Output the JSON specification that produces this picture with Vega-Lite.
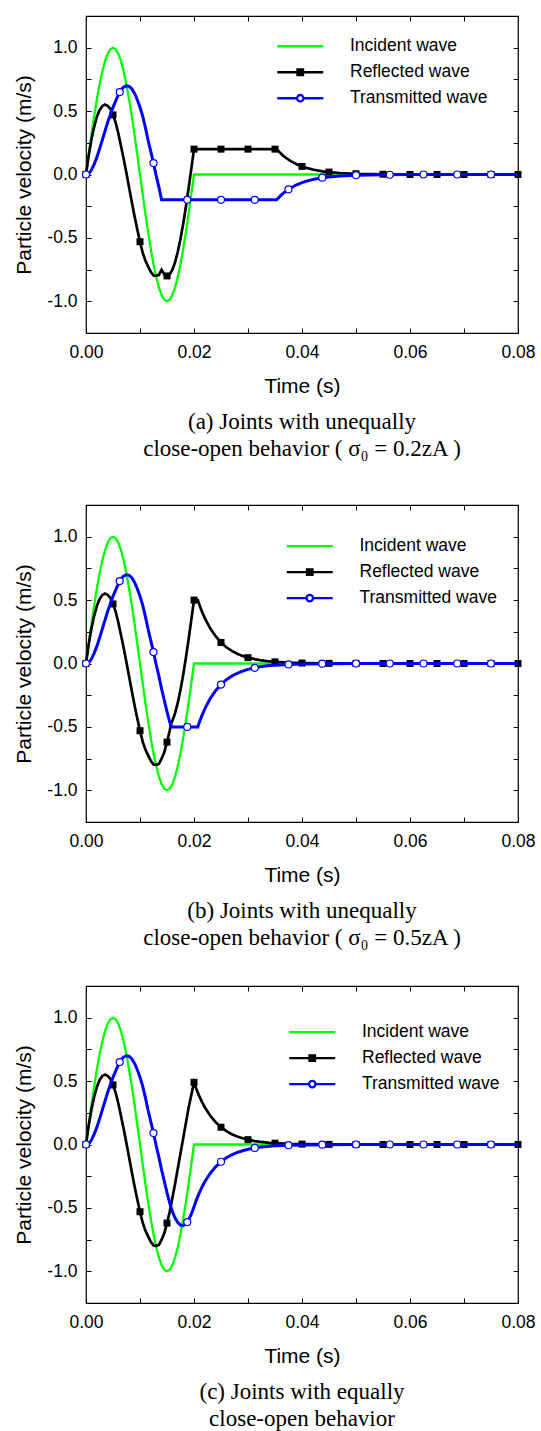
{
  "$schema": "https://vega.github.io/schema/vega-lite/v6.json",
  "background": "white",
  "padding": {"left": 13, "top": 14, "right": 0, "bottom": 0},
  "config": {
    "font": "Liberation Sans",
    "view": {"stroke": "#000000", "strokeWidth": 1.2},
    "axis": {"domain": false, "grid": false, "tickSize": -5, "tickColor": "#000000", "tickWidth": 1, "labelFont": "Liberation Sans", "labelFontSize": 17.5, "labelColor": "#000000", "titleFont": "Liberation Sans", "titleFontSize": 21, "titleFontWeight": "normal", "titleColor": "#000000"},
    "title": {"font": "Liberation Serif, DejaVu Serif, serif", "fontSize": 23, "fontWeight": "normal", "color": "#000000", "orient": "bottom", "anchor": "middle", "frame": "group", "offset": 14, "lineHeight": 27},
    "legend": {"title": null, "orient": "none", "labelFont": "Liberation Sans", "labelFontSize": 17.5, "labelColor": "#000000", "labelOffset": 41, "symbolSize": 100, "symbolStrokeWidth": 2.3, "rowPadding": 7, "padding": 0}
  },
  "datasets": {
    "lines": [
      {"p":"abc","s":"Incident wave","t":0,"v":0},{"p":"abc","s":"Incident wave","t":0.0005,"v":0.156},{"p":"abc","s":"Incident wave","t":0.001,"v":0.309},{"p":"abc","s":"Incident wave","t":0.0015,"v":0.454},{"p":"abc","s":"Incident wave","t":0.002,"v":0.588},{"p":"abc","s":"Incident wave","t":0.0025,"v":0.707},{"p":"abc","s":"Incident wave","t":0.003,"v":0.809},{"p":"abc","s":"Incident wave","t":0.0035,"v":0.891},{"p":"abc","s":"Incident wave","t":0.004,"v":0.951},{"p":"abc","s":"Incident wave","t":0.0045,"v":0.988},{"p":"abc","s":"Incident wave","t":0.005,"v":1},{"p":"abc","s":"Incident wave","t":0.0055,"v":0.988},{"p":"abc","s":"Incident wave","t":0.006,"v":0.951},{"p":"abc","s":"Incident wave","t":0.0065,"v":0.891},{"p":"abc","s":"Incident wave","t":0.007,"v":0.809},{"p":"abc","s":"Incident wave","t":0.0075,"v":0.707},{"p":"abc","s":"Incident wave","t":0.008,"v":0.588},{"p":"abc","s":"Incident wave","t":0.0085,"v":0.454},{"p":"abc","s":"Incident wave","t":0.009,"v":0.309},{"p":"abc","s":"Incident wave","t":0.0095,"v":0.156},{"p":"abc","s":"Incident wave","t":0.01,"v":0},{"p":"abc","s":"Incident wave","t":0.0105,"v":-0.156},{"p":"abc","s":"Incident wave","t":0.011,"v":-0.309},{"p":"abc","s":"Incident wave","t":0.0115,"v":-0.454},{"p":"abc","s":"Incident wave","t":0.012,"v":-0.588},{"p":"abc","s":"Incident wave","t":0.0125,"v":-0.707},{"p":"abc","s":"Incident wave","t":0.013,"v":-0.809},{"p":"abc","s":"Incident wave","t":0.0135,"v":-0.891},{"p":"abc","s":"Incident wave","t":0.014,"v":-0.951},{"p":"abc","s":"Incident wave","t":0.0145,"v":-0.988},{"p":"abc","s":"Incident wave","t":0.015,"v":-1},{"p":"abc","s":"Incident wave","t":0.0155,"v":-0.988},{"p":"abc","s":"Incident wave","t":0.016,"v":-0.951},{"p":"abc","s":"Incident wave","t":0.0165,"v":-0.891},{"p":"abc","s":"Incident wave","t":0.017,"v":-0.809},{"p":"abc","s":"Incident wave","t":0.0175,"v":-0.707},{"p":"abc","s":"Incident wave","t":0.018,"v":-0.588},{"p":"abc","s":"Incident wave","t":0.0185,"v":-0.454},{"p":"abc","s":"Incident wave","t":0.019,"v":-0.309},{"p":"abc","s":"Incident wave","t":0.0195,"v":-0.156},{"p":"abc","s":"Incident wave","t":0.02,"v":0},{"p":"abc","s":"Incident wave","t":0.08,"v":0},

      {"p":"abc","s":"Transmitted wave","t":0,"v":0},{"p":"abc","s":"Transmitted wave","t":0.0005,"v":0.005},{"p":"abc","s":"Transmitted wave","t":0.001,"v":0.035},{"p":"abc","s":"Transmitted wave","t":0.0015,"v":0.08},{"p":"abc","s":"Transmitted wave","t":0.002,"v":0.135},{"p":"abc","s":"Transmitted wave","t":0.0025,"v":0.2},{"p":"abc","s":"Transmitted wave","t":0.003,"v":0.27},{"p":"abc","s":"Transmitted wave","t":0.0035,"v":0.34},{"p":"abc","s":"Transmitted wave","t":0.004,"v":0.41},{"p":"abc","s":"Transmitted wave","t":0.0045,"v":0.47},{"p":"abc","s":"Transmitted wave","t":0.005,"v":0.53},{"p":"abc","s":"Transmitted wave","t":0.0055,"v":0.58},{"p":"abc","s":"Transmitted wave","t":0.006,"v":0.63},{"p":"abc","s":"Transmitted wave","t":0.00625,"v":0.65},{"p":"abc","s":"Transmitted wave","t":0.0065,"v":0.67},{"p":"abc","s":"Transmitted wave","t":0.007,"v":0.69},{"p":"abc","s":"Transmitted wave","t":0.0075,"v":0.7},{"p":"abc","s":"Transmitted wave","t":0.008,"v":0.695},{"p":"abc","s":"Transmitted wave","t":0.0085,"v":0.675},{"p":"abc","s":"Transmitted wave","t":0.009,"v":0.64},{"p":"abc","s":"Transmitted wave","t":0.0095,"v":0.59},{"p":"abc","s":"Transmitted wave","t":0.01,"v":0.53},{"p":"abc","s":"Transmitted wave","t":0.0105,"v":0.46},{"p":"abc","s":"Transmitted wave","t":0.011,"v":0.37},{"p":"abc","s":"Transmitted wave","t":0.0115,"v":0.27},{"p":"abc","s":"Transmitted wave","t":0.012,"v":0.18},{"p":"abc","s":"Transmitted wave","t":0.0125,"v":0.09},{"p":"abc","s":"Transmitted wave","t":0.013,"v":-0.01},{"p":"abc","s":"Transmitted wave","t":0.0135,"v":-0.1},{"p":"abc","s":"Transmitted wave","t":0.014,"v":-0.2},

      {"p":"a","s":"Transmitted wave","t":0.0353,"v":-0.2},{"p":"a","s":"Transmitted wave","t":0.036,"v":-0.169},{"p":"a","s":"Transmitted wave","t":0.0365,"v":-0.149},{"p":"a","s":"Transmitted wave","t":0.037,"v":-0.132},{"p":"a","s":"Transmitted wave","t":0.0375,"v":-0.117},{"p":"a","s":"Transmitted wave","t":0.038,"v":-0.104},{"p":"a","s":"Transmitted wave","t":0.039,"v":-0.081},{"p":"a","s":"Transmitted wave","t":0.04,"v":-0.064},{"p":"a","s":"Transmitted wave","t":0.041,"v":-0.05},{"p":"a","s":"Transmitted wave","t":0.042,"v":-0.039},{"p":"a","s":"Transmitted wave","t":0.04375,"v":-0.025},{"p":"a","s":"Transmitted wave","t":0.045,"v":-0.019},{"p":"a","s":"Transmitted wave","t":0.047,"v":-0.012},{"p":"a","s":"Transmitted wave","t":0.05,"v":-0.006},{"p":"a","s":"Transmitted wave","t":0.055,"v":-0.002},{"p":"a","s":"Transmitted wave","t":0.06,"v":0},{"p":"a","s":"Transmitted wave","t":0.08,"v":0},

      {"p":"bc","s":"Transmitted wave","t":0.0145,"v":-0.29},{"p":"bc","s":"Transmitted wave","t":0.015,"v":-0.38},{"p":"bc","s":"Transmitted wave","t":0.0155,"v":-0.46},

      {"p":"b","s":"Transmitted wave","t":0.0158,"v":-0.5},{"p":"b","s":"Transmitted wave","t":0.0207,"v":-0.5},{"p":"b","s":"Transmitted wave","t":0.021,"v":-0.463},{"p":"b","s":"Transmitted wave","t":0.0215,"v":-0.407},{"p":"b","s":"Transmitted wave","t":0.022,"v":-0.358},{"p":"b","s":"Transmitted wave","t":0.023,"v":-0.277},{"p":"b","s":"Transmitted wave","t":0.024,"v":-0.215},{"p":"b","s":"Transmitted wave","t":0.025,"v":-0.166},{"p":"b","s":"Transmitted wave","t":0.026,"v":-0.128},{"p":"b","s":"Transmitted wave","t":0.027,"v":-0.099},{"p":"b","s":"Transmitted wave","t":0.028,"v":-0.077},{"p":"b","s":"Transmitted wave","t":0.029,"v":-0.06},{"p":"b","s":"Transmitted wave","t":0.03,"v":-0.046},{"p":"b","s":"Transmitted wave","t":0.03125,"v":-0.034},{"p":"b","s":"Transmitted wave","t":0.0325,"v":-0.024},{"p":"b","s":"Transmitted wave","t":0.034,"v":-0.016},{"p":"b","s":"Transmitted wave","t":0.035,"v":-0.013},{"p":"b","s":"Transmitted wave","t":0.0375,"v":-0.007},{"p":"b","s":"Transmitted wave","t":0.04,"v":-0.0035},{"p":"b","s":"Transmitted wave","t":0.045,"v":-0.001},{"p":"b","s":"Transmitted wave","t":0.05,"v":0},{"p":"b","s":"Transmitted wave","t":0.08,"v":0},

      {"p":"c","s":"Transmitted wave","t":0.016,"v":-0.53},{"p":"c","s":"Transmitted wave","t":0.0165,"v":-0.58},{"p":"c","s":"Transmitted wave","t":0.017,"v":-0.615},{"p":"c","s":"Transmitted wave","t":0.0175,"v":-0.635},{"p":"c","s":"Transmitted wave","t":0.018,"v":-0.64},{"p":"c","s":"Transmitted wave","t":0.0185,"v":-0.625},{"p":"c","s":"Transmitted wave","t":0.01875,"v":-0.612},{"p":"c","s":"Transmitted wave","t":0.019,"v":-0.595},{"p":"c","s":"Transmitted wave","t":0.0195,"v":-0.55},{"p":"c","s":"Transmitted wave","t":0.02,"v":-0.49},{"p":"c","s":"Transmitted wave","t":0.0205,"v":-0.431},{"p":"c","s":"Transmitted wave","t":0.021,"v":-0.379},{"p":"c","s":"Transmitted wave","t":0.0215,"v":-0.334},{"p":"c","s":"Transmitted wave","t":0.022,"v":-0.294},{"p":"c","s":"Transmitted wave","t":0.023,"v":-0.227},{"p":"c","s":"Transmitted wave","t":0.024,"v":-0.176},{"p":"c","s":"Transmitted wave","t":0.025,"v":-0.136},{"p":"c","s":"Transmitted wave","t":0.026,"v":-0.105},{"p":"c","s":"Transmitted wave","t":0.027,"v":-0.081},{"p":"c","s":"Transmitted wave","t":0.028,"v":-0.063},{"p":"c","s":"Transmitted wave","t":0.029,"v":-0.049},{"p":"c","s":"Transmitted wave","t":0.03,"v":-0.038},{"p":"c","s":"Transmitted wave","t":0.03125,"v":-0.027},{"p":"c","s":"Transmitted wave","t":0.0325,"v":-0.02},{"p":"c","s":"Transmitted wave","t":0.034,"v":-0.0135},{"p":"c","s":"Transmitted wave","t":0.035,"v":-0.0104},{"p":"c","s":"Transmitted wave","t":0.0375,"v":-0.0055},{"p":"c","s":"Transmitted wave","t":0.04,"v":-0.003},{"p":"c","s":"Transmitted wave","t":0.045,"v":-0.001},{"p":"c","s":"Transmitted wave","t":0.05,"v":0},{"p":"c","s":"Transmitted wave","t":0.08,"v":0},

      {"p":"abc","s":"Reflected wave","t":0,"v":0},{"p":"abc","s":"Reflected wave","t":0.0005,"v":0.151},{"p":"abc","s":"Reflected wave","t":0.001,"v":0.274},{"p":"abc","s":"Reflected wave","t":0.0015,"v":0.374},{"p":"abc","s":"Reflected wave","t":0.002,"v":0.453},{"p":"abc","s":"Reflected wave","t":0.0025,"v":0.507},{"p":"abc","s":"Reflected wave","t":0.003,"v":0.539},{"p":"abc","s":"Reflected wave","t":0.0035,"v":0.551},{"p":"abc","s":"Reflected wave","t":0.004,"v":0.541},{"p":"abc","s":"Reflected wave","t":0.0045,"v":0.518},{"p":"abc","s":"Reflected wave","t":0.005,"v":0.47},{"p":"abc","s":"Reflected wave","t":0.0055,"v":0.408},{"p":"abc","s":"Reflected wave","t":0.006,"v":0.321},{"p":"abc","s":"Reflected wave","t":0.0065,"v":0.221},{"p":"abc","s":"Reflected wave","t":0.007,"v":0.119},{"p":"abc","s":"Reflected wave","t":0.0075,"v":0.007},{"p":"abc","s":"Reflected wave","t":0.008,"v":-0.107},{"p":"abc","s":"Reflected wave","t":0.0085,"v":-0.221},{"p":"abc","s":"Reflected wave","t":0.009,"v":-0.331},{"p":"abc","s":"Reflected wave","t":0.0095,"v":-0.434},{"p":"abc","s":"Reflected wave","t":0.01,"v":-0.53},{"p":"abc","s":"Reflected wave","t":0.0105,"v":-0.616},{"p":"abc","s":"Reflected wave","t":0.011,"v":-0.679},{"p":"abc","s":"Reflected wave","t":0.0115,"v":-0.724},{"p":"abc","s":"Reflected wave","t":0.012,"v":-0.768},{"p":"abc","s":"Reflected wave","t":0.0125,"v":-0.797},{"p":"abc","s":"Reflected wave","t":0.013,"v":-0.799},{"p":"abc","s":"Reflected wave","t":0.0135,"v":-0.791},{"p":"abc","s":"Reflected wave","t":0.014,"v":-0.751},

      {"p":"a","s":"Reflected wave","t":0.0145,"v":-0.788},{"p":"a","s":"Reflected wave","t":0.015,"v":-0.8},{"p":"a","s":"Reflected wave","t":0.0155,"v":-0.788},{"p":"a","s":"Reflected wave","t":0.016,"v":-0.751},{"p":"a","s":"Reflected wave","t":0.0165,"v":-0.691},{"p":"a","s":"Reflected wave","t":0.017,"v":-0.609},{"p":"a","s":"Reflected wave","t":0.0175,"v":-0.507},{"p":"a","s":"Reflected wave","t":0.018,"v":-0.388},{"p":"a","s":"Reflected wave","t":0.0185,"v":-0.254},{"p":"a","s":"Reflected wave","t":0.019,"v":-0.109},{"p":"a","s":"Reflected wave","t":0.0195,"v":0.044},{"p":"a","s":"Reflected wave","t":0.02,"v":0.2},{"p":"a","s":"Reflected wave","t":0.0353,"v":0.2},{"p":"a","s":"Reflected wave","t":0.036,"v":0.169},{"p":"a","s":"Reflected wave","t":0.0365,"v":0.149},{"p":"a","s":"Reflected wave","t":0.037,"v":0.132},{"p":"a","s":"Reflected wave","t":0.0375,"v":0.117},{"p":"a","s":"Reflected wave","t":0.038,"v":0.104},{"p":"a","s":"Reflected wave","t":0.039,"v":0.081},{"p":"a","s":"Reflected wave","t":0.04,"v":0.064},{"p":"a","s":"Reflected wave","t":0.041,"v":0.05},{"p":"a","s":"Reflected wave","t":0.042,"v":0.039},{"p":"a","s":"Reflected wave","t":0.04375,"v":0.025},{"p":"a","s":"Reflected wave","t":0.045,"v":0.019},{"p":"a","s":"Reflected wave","t":0.047,"v":0.012},{"p":"a","s":"Reflected wave","t":0.05,"v":0.006},{"p":"a","s":"Reflected wave","t":0.055,"v":0.002},{"p":"a","s":"Reflected wave","t":0.06,"v":0},{"p":"a","s":"Reflected wave","t":0.08,"v":0},

      {"p":"bc","s":"Reflected wave","t":0.0145,"v":-0.7},{"p":"bc","s":"Reflected wave","t":0.015,"v":-0.62},{"p":"bc","s":"Reflected wave","t":0.0155,"v":-0.53},

      {"p":"b","s":"Reflected wave","t":0.0158,"v":-0.469},{"p":"b","s":"Reflected wave","t":0.016,"v":-0.451},{"p":"b","s":"Reflected wave","t":0.0165,"v":-0.391},{"p":"b","s":"Reflected wave","t":0.017,"v":-0.309},{"p":"b","s":"Reflected wave","t":0.0175,"v":-0.207},{"p":"b","s":"Reflected wave","t":0.018,"v":-0.088},{"p":"b","s":"Reflected wave","t":0.0185,"v":0.046},{"p":"b","s":"Reflected wave","t":0.019,"v":0.191},{"p":"b","s":"Reflected wave","t":0.0195,"v":0.344},{"p":"b","s":"Reflected wave","t":0.02,"v":0.5},{"p":"b","s":"Reflected wave","t":0.0207,"v":0.5},{"p":"b","s":"Reflected wave","t":0.021,"v":0.463},{"p":"b","s":"Reflected wave","t":0.0215,"v":0.407},{"p":"b","s":"Reflected wave","t":0.022,"v":0.358},{"p":"b","s":"Reflected wave","t":0.023,"v":0.277},{"p":"b","s":"Reflected wave","t":0.024,"v":0.215},{"p":"b","s":"Reflected wave","t":0.025,"v":0.166},{"p":"b","s":"Reflected wave","t":0.026,"v":0.128},{"p":"b","s":"Reflected wave","t":0.027,"v":0.099},{"p":"b","s":"Reflected wave","t":0.028,"v":0.077},{"p":"b","s":"Reflected wave","t":0.029,"v":0.06},{"p":"b","s":"Reflected wave","t":0.03,"v":0.046},{"p":"b","s":"Reflected wave","t":0.03125,"v":0.034},{"p":"b","s":"Reflected wave","t":0.0325,"v":0.024},{"p":"b","s":"Reflected wave","t":0.034,"v":0.016},{"p":"b","s":"Reflected wave","t":0.035,"v":0.013},{"p":"b","s":"Reflected wave","t":0.0375,"v":0.007},{"p":"b","s":"Reflected wave","t":0.04,"v":0.0035},{"p":"b","s":"Reflected wave","t":0.045,"v":0.001},{"p":"b","s":"Reflected wave","t":0.05,"v":0},{"p":"b","s":"Reflected wave","t":0.08,"v":0},

      {"p":"c","s":"Reflected wave","t":0.016,"v":-0.42},{"p":"c","s":"Reflected wave","t":0.0165,"v":-0.31},{"p":"c","s":"Reflected wave","t":0.017,"v":-0.19},{"p":"c","s":"Reflected wave","t":0.0175,"v":-0.07},{"p":"c","s":"Reflected wave","t":0.018,"v":0.05},{"p":"c","s":"Reflected wave","t":0.0185,"v":0.17},{"p":"c","s":"Reflected wave","t":0.019,"v":0.29},{"p":"c","s":"Reflected wave","t":0.0195,"v":0.39},{"p":"c","s":"Reflected wave","t":0.02,"v":0.49},{"p":"c","s":"Reflected wave","t":0.0205,"v":0.431},{"p":"c","s":"Reflected wave","t":0.021,"v":0.379},{"p":"c","s":"Reflected wave","t":0.0215,"v":0.334},{"p":"c","s":"Reflected wave","t":0.022,"v":0.294},{"p":"c","s":"Reflected wave","t":0.023,"v":0.227},{"p":"c","s":"Reflected wave","t":0.024,"v":0.176},{"p":"c","s":"Reflected wave","t":0.025,"v":0.136},{"p":"c","s":"Reflected wave","t":0.026,"v":0.105},{"p":"c","s":"Reflected wave","t":0.027,"v":0.081},{"p":"c","s":"Reflected wave","t":0.028,"v":0.063},{"p":"c","s":"Reflected wave","t":0.029,"v":0.049},{"p":"c","s":"Reflected wave","t":0.03,"v":0.038},{"p":"c","s":"Reflected wave","t":0.03125,"v":0.027},{"p":"c","s":"Reflected wave","t":0.0325,"v":0.02},{"p":"c","s":"Reflected wave","t":0.034,"v":0.0135},{"p":"c","s":"Reflected wave","t":0.035,"v":0.0104},{"p":"c","s":"Reflected wave","t":0.0375,"v":0.0055},{"p":"c","s":"Reflected wave","t":0.04,"v":0.003},{"p":"c","s":"Reflected wave","t":0.045,"v":0.001},{"p":"c","s":"Reflected wave","t":0.05,"v":0},{"p":"c","s":"Reflected wave","t":0.08,"v":0}
    ],
    "marks": [
      {"p":"abc","s":"Reflected wave","t":0,"v":0},{"p":"abc","s":"Reflected wave","t":0.005,"v":0.47},{"p":"abc","s":"Reflected wave","t":0.01,"v":-0.53},{"p":"abc","s":"Reflected wave","t":0.06,"v":0},{"p":"abc","s":"Reflected wave","t":0.065,"v":0},{"p":"abc","s":"Reflected wave","t":0.07,"v":0},{"p":"abc","s":"Reflected wave","t":0.075,"v":0},{"p":"abc","s":"Reflected wave","t":0.08,"v":0},
      {"p":"a","s":"Reflected wave","t":0.015,"v":-0.8},{"p":"a","s":"Reflected wave","t":0.02,"v":0.2},{"p":"a","s":"Reflected wave","t":0.025,"v":0.2},{"p":"a","s":"Reflected wave","t":0.03,"v":0.2},{"p":"a","s":"Reflected wave","t":0.035,"v":0.2},{"p":"a","s":"Reflected wave","t":0.04,"v":0.064},{"p":"a","s":"Reflected wave","t":0.045,"v":0.019},{"p":"a","s":"Reflected wave","t":0.05,"v":0.006},{"p":"a","s":"Reflected wave","t":0.055,"v":0.002},
      {"p":"bc","s":"Reflected wave","t":0.015,"v":-0.62},{"p":"bc","s":"Reflected wave","t":0.05,"v":0},{"p":"bc","s":"Reflected wave","t":0.055,"v":0},
      {"p":"b","s":"Reflected wave","t":0.02,"v":0.5},{"p":"b","s":"Reflected wave","t":0.025,"v":0.166},{"p":"b","s":"Reflected wave","t":0.03,"v":0.046},{"p":"b","s":"Reflected wave","t":0.035,"v":0.013},{"p":"b","s":"Reflected wave","t":0.04,"v":0.0035},{"p":"b","s":"Reflected wave","t":0.045,"v":0.001},
      {"p":"c","s":"Reflected wave","t":0.02,"v":0.49},{"p":"c","s":"Reflected wave","t":0.025,"v":0.136},{"p":"c","s":"Reflected wave","t":0.03,"v":0.038},{"p":"c","s":"Reflected wave","t":0.035,"v":0.0104},{"p":"c","s":"Reflected wave","t":0.04,"v":0.003},{"p":"c","s":"Reflected wave","t":0.045,"v":0.001},
      {"p":"abc","s":"Transmitted wave","t":0,"v":0},{"p":"abc","s":"Transmitted wave","t":0.00625,"v":0.65},{"p":"abc","s":"Transmitted wave","t":0.0125,"v":0.09},{"p":"abc","s":"Transmitted wave","t":0.0625,"v":0},{"p":"abc","s":"Transmitted wave","t":0.06875,"v":0},{"p":"abc","s":"Transmitted wave","t":0.075,"v":0},
      {"p":"a","s":"Transmitted wave","t":0.01875,"v":-0.2},{"p":"a","s":"Transmitted wave","t":0.025,"v":-0.2},{"p":"a","s":"Transmitted wave","t":0.03125,"v":-0.2},{"p":"a","s":"Transmitted wave","t":0.0375,"v":-0.117},{"p":"a","s":"Transmitted wave","t":0.04375,"v":-0.025},{"p":"a","s":"Transmitted wave","t":0.05,"v":-0.006},{"p":"a","s":"Transmitted wave","t":0.05625,"v":-0.002},
      {"p":"bc","s":"Transmitted wave","t":0.04375,"v":-0.0015},{"p":"bc","s":"Transmitted wave","t":0.05,"v":0},{"p":"bc","s":"Transmitted wave","t":0.05625,"v":0},
      {"p":"b","s":"Transmitted wave","t":0.01875,"v":-0.5},{"p":"b","s":"Transmitted wave","t":0.025,"v":-0.166},{"p":"b","s":"Transmitted wave","t":0.03125,"v":-0.034},{"p":"b","s":"Transmitted wave","t":0.0375,"v":-0.007},
      {"p":"c","s":"Transmitted wave","t":0.01875,"v":-0.612},{"p":"c","s":"Transmitted wave","t":0.025,"v":-0.136},{"p":"c","s":"Transmitted wave","t":0.03125,"v":-0.027},{"p":"c","s":"Transmitted wave","t":0.0375,"v":-0.0055}
    ]
  },
  "spacing": 41,
  "resolve": {"scale": {"color": "independent"}, "legend": {"color": "independent"}},
  "vconcat": [
    {
      "width": 432, "height": 317,
      "title": {"text": ["(a) Joints with unequally", "close-open behavior ( σ₀ = 0.2zA )"]},
      "resolve": {"axis": {"x": "independent", "y": "independent"}},
      "layer": [
        {"data": {"name": "lines"}, "transform": [{"filter": "(datum.p==='abc' || datum.p==='a') && datum.s==='Incident wave'"}],
         "mark": {"type": "line", "strokeWidth": 2.3},
         "encoding": {
           "x": {"field": "t", "type": "quantitative", "scale": {"domain": [0, 0.08], "nice": false, "zero": false}, "axis": {"orient": "bottom", "values": [0,0.01,0.02,0.03,0.04,0.05,0.06,0.07,0.08], "labelExpr": "round(datum.value*100) % 2 === 0 ? format(datum.value, '.2f') : ''", "labelFlush": false, "labelOverlap": false, "labelPadding": 15, "title": "Time (s)", "titlePadding": 15}},
           "y": {"field": "v", "type": "quantitative", "scale": {"domain": [-1.25, 1.25], "nice": false, "zero": false}, "axis": {"orient": "left", "values": [-1,-0.75,-0.5,-0.25,0,0.25,0.5,0.75,1], "labelExpr": "round(datum.value*100) % 50 === 0 ? replace(format(datum.value, '.1f'), '\u2212', '-') : ''", "labelOverlap": false, "labelPadding": 14, "title": "Particle velocity (m/s)", "titlePadding": 12}},
           "color": {"field": "s", "type": "nominal", "scale": {"domain": ["Incident wave", "Reflected wave", "Transmitted wave"], "range": ["#00ff00", "#000000", "#0000ff"]},
             "legend": {"legendX": 205.5, "legendY": 21.5,
               "encode": {"symbols": {"update": {
                 "shape": {"signal": "datum.value === 'Incident wave' ? 'M-4.6,0H4.6' : datum.value === 'Reflected wave' ? 'M-4.6,0H4.6M-0.55,-0.55H0.55V0.55H-0.55Z' : 'M-4.6,0H-0.65M0.65,0H4.6M0.65,0A0.65,0.65,0,1,1,-0.65,0A0.65,0.65,0,1,1,0.65,0Z'"},
                 "fill": {"signal": "datum.value === 'Reflected wave' ? '#000000' : '#ffffff'"},
                 "stroke": {"signal": "datum.value === 'Incident wave' ? '#00ff00' : datum.value === 'Reflected wave' ? '#000000' : '#0000ff'"},
                 "opacity": {"value": 1}}}}}}
         }},
        {"data": {"name": "lines"}, "transform": [{"filter": "(datum.p==='abc' || datum.p==='a') && datum.s==='Reflected wave'"}],
         "mark": {"type": "line", "color": "#000000", "strokeWidth": 2.7},
         "encoding": {
           "x": {"field": "t", "type": "quantitative", "scale": {"domain": [0, 0.08], "nice": false, "zero": false}, "axis": {"orient": "top", "values": [0,0.01,0.02,0.03,0.04,0.05,0.06,0.07,0.08], "labels": false, "title": null}},
           "y": {"field": "v", "type": "quantitative", "scale": {"domain": [-1.25, 1.25], "nice": false, "zero": false}, "axis": {"orient": "right", "values": [-1,-0.75,-0.5,-0.25,0,0.25,0.5,0.75,1], "labels": false, "title": null}}
         }},
        {"data": {"name": "marks"}, "transform": [{"filter": "(datum.p==='abc' || datum.p==='a') && datum.s==='Reflected wave'"}],
         "mark": {"type": "square", "color": "#000000", "size": 49, "opacity": 1},
         "encoding": {"x": {"field": "t", "type": "quantitative", "axis": null}, "y": {"field": "v", "type": "quantitative", "axis": null}}},
        {"data": {"name": "lines"}, "transform": [{"filter": "(datum.p==='abc' || datum.p==='a') && datum.s==='Transmitted wave'"}],
         "mark": {"type": "line", "color": "#0000ff", "strokeWidth": 3},
         "encoding": {"x": {"field": "t", "type": "quantitative", "axis": null}, "y": {"field": "v", "type": "quantitative", "axis": null}}},
        {"data": {"name": "marks"}, "transform": [{"filter": "(datum.p==='abc' || datum.p==='a') && datum.s==='Transmitted wave'"}],
         "mark": {"type": "point", "shape": "circle", "filled": true, "fill": "#ffffff", "stroke": "#0000ff", "strokeWidth": 1.2, "size": 49, "opacity": 1},
         "encoding": {"x": {"field": "t", "type": "quantitative", "axis": null}, "y": {"field": "v", "type": "quantitative", "axis": null}}}
      ]
    },
    {
      "spacing": 33,
      "resolve": {"scale": {"color": "independent"}, "legend": {"color": "independent"}},
      "vconcat": [
        {
          "width": 432, "height": 317,
          "title": {"text": ["(b) Joints with unequally", "close-open behavior ( σ₀ = 0.5zA )"]},
          "resolve": {"axis": {"x": "independent", "y": "independent"}},
          "layer": [
            {"data": {"name": "lines"}, "transform": [{"filter": "(datum.p==='abc' || datum.p==='bc' || datum.p==='b') && datum.s==='Incident wave'"}],
             "mark": {"type": "line", "strokeWidth": 2.3},
             "encoding": {
               "x": {"field": "t", "type": "quantitative", "scale": {"domain": [0, 0.08], "nice": false, "zero": false}, "axis": {"orient": "bottom", "values": [0,0.01,0.02,0.03,0.04,0.05,0.06,0.07,0.08], "labelExpr": "round(datum.value*100) % 2 === 0 ? format(datum.value, '.2f') : ''", "labelFlush": false, "labelOverlap": false, "labelPadding": 15, "title": "Time (s)", "titlePadding": 15}},
               "y": {"field": "v", "type": "quantitative", "scale": {"domain": [-1.25, 1.25], "nice": false, "zero": false}, "axis": {"orient": "left", "values": [-1,-0.75,-0.5,-0.25,0,0.25,0.5,0.75,1], "labelExpr": "round(datum.value*100) % 50 === 0 ? replace(format(datum.value, '.1f'), '\u2212', '-') : ''", "labelOverlap": false, "labelPadding": 14, "title": "Particle velocity (m/s)", "titlePadding": 12}},
               "color": {"field": "s", "type": "nominal", "scale": {"domain": ["Incident wave", "Reflected wave", "Transmitted wave"], "range": ["#00ff00", "#000000", "#0000ff"]},
                 "legend": {"legendX": 215, "legendY": 32.3,
                   "encode": {"symbols": {"update": {
                     "shape": {"signal": "datum.value === 'Incident wave' ? 'M-4.6,0H4.6' : datum.value === 'Reflected wave' ? 'M-4.6,0H4.6M-0.55,-0.55H0.55V0.55H-0.55Z' : 'M-4.6,0H-0.65M0.65,0H4.6M0.65,0A0.65,0.65,0,1,1,-0.65,0A0.65,0.65,0,1,1,0.65,0Z'"},
                     "fill": {"signal": "datum.value === 'Reflected wave' ? '#000000' : '#ffffff'"},
                     "stroke": {"signal": "datum.value === 'Incident wave' ? '#00ff00' : datum.value === 'Reflected wave' ? '#000000' : '#0000ff'"},
                     "opacity": {"value": 1}}}}}}
             }},
            {"data": {"name": "lines"}, "transform": [{"filter": "(datum.p==='abc' || datum.p==='bc' || datum.p==='b') && datum.s==='Reflected wave'"}],
             "mark": {"type": "line", "color": "#000000", "strokeWidth": 2.7},
             "encoding": {
               "x": {"field": "t", "type": "quantitative", "scale": {"domain": [0, 0.08], "nice": false, "zero": false}, "axis": {"orient": "top", "values": [0,0.01,0.02,0.03,0.04,0.05,0.06,0.07,0.08], "labels": false, "title": null}},
               "y": {"field": "v", "type": "quantitative", "scale": {"domain": [-1.25, 1.25], "nice": false, "zero": false}, "axis": {"orient": "right", "values": [-1,-0.75,-0.5,-0.25,0,0.25,0.5,0.75,1], "labels": false, "title": null}}
             }},
            {"data": {"name": "marks"}, "transform": [{"filter": "(datum.p==='abc' || datum.p==='bc' || datum.p==='b') && datum.s==='Reflected wave'"}],
             "mark": {"type": "square", "color": "#000000", "size": 49, "opacity": 1},
             "encoding": {"x": {"field": "t", "type": "quantitative", "axis": null}, "y": {"field": "v", "type": "quantitative", "axis": null}}},
            {"data": {"name": "lines"}, "transform": [{"filter": "(datum.p==='abc' || datum.p==='bc' || datum.p==='b') && datum.s==='Transmitted wave'"}],
             "mark": {"type": "line", "color": "#0000ff", "strokeWidth": 3},
             "encoding": {"x": {"field": "t", "type": "quantitative", "axis": null}, "y": {"field": "v", "type": "quantitative", "axis": null}}},
            {"data": {"name": "marks"}, "transform": [{"filter": "(datum.p==='abc' || datum.p==='bc' || datum.p==='b') && datum.s==='Transmitted wave'"}],
             "mark": {"type": "point", "shape": "circle", "filled": true, "fill": "#ffffff", "stroke": "#0000ff", "strokeWidth": 1.2, "size": 49, "opacity": 1},
             "encoding": {"x": {"field": "t", "type": "quantitative", "axis": null}, "y": {"field": "v", "type": "quantitative", "axis": null}}}
          ]
        },
        {
          "width": 432, "height": 317,
          "title": {"text": ["(c) Joints with equally", "close-open behavior"]},
          "resolve": {"axis": {"x": "independent", "y": "independent"}},
          "layer": [
            {"data": {"name": "lines"}, "transform": [{"filter": "(datum.p==='abc' || datum.p==='bc' || datum.p==='c') && datum.s==='Incident wave'"}],
             "mark": {"type": "line", "strokeWidth": 2.3},
             "encoding": {
               "x": {"field": "t", "type": "quantitative", "scale": {"domain": [0, 0.08], "nice": false, "zero": false}, "axis": {"orient": "bottom", "values": [0,0.01,0.02,0.03,0.04,0.05,0.06,0.07,0.08], "labelExpr": "round(datum.value*100) % 2 === 0 ? format(datum.value, '.2f') : ''", "labelFlush": false, "labelOverlap": false, "labelPadding": 15, "title": "Time (s)", "titlePadding": 15}},
               "y": {"field": "v", "type": "quantitative", "scale": {"domain": [-1.25, 1.25], "nice": false, "zero": false}, "axis": {"orient": "left", "values": [-1,-0.75,-0.5,-0.25,0,0.25,0.5,0.75,1], "labelExpr": "round(datum.value*100) % 50 === 0 ? replace(format(datum.value, '.1f'), '\u2212', '-') : ''", "labelOverlap": false, "labelPadding": 14, "title": "Particle velocity (m/s)", "titlePadding": 12}},
               "color": {"field": "s", "type": "nominal", "scale": {"domain": ["Incident wave", "Reflected wave", "Transmitted wave"], "range": ["#00ff00", "#000000", "#0000ff"]},
                 "legend": {"legendX": 217.5, "legendY": 37.3,
                   "encode": {"symbols": {"update": {
                     "shape": {"signal": "datum.value === 'Incident wave' ? 'M-4.6,0H4.6' : datum.value === 'Reflected wave' ? 'M-4.6,0H4.6M-0.55,-0.55H0.55V0.55H-0.55Z' : 'M-4.6,0H-0.65M0.65,0H4.6M0.65,0A0.65,0.65,0,1,1,-0.65,0A0.65,0.65,0,1,1,0.65,0Z'"},
                     "fill": {"signal": "datum.value === 'Reflected wave' ? '#000000' : '#ffffff'"},
                     "stroke": {"signal": "datum.value === 'Incident wave' ? '#00ff00' : datum.value === 'Reflected wave' ? '#000000' : '#0000ff'"},
                     "opacity": {"value": 1}}}}}}
             }},
            {"data": {"name": "lines"}, "transform": [{"filter": "(datum.p==='abc' || datum.p==='bc' || datum.p==='c') && datum.s==='Reflected wave'"}],
             "mark": {"type": "line", "color": "#000000", "strokeWidth": 2.7},
             "encoding": {
               "x": {"field": "t", "type": "quantitative", "scale": {"domain": [0, 0.08], "nice": false, "zero": false}, "axis": {"orient": "top", "values": [0,0.01,0.02,0.03,0.04,0.05,0.06,0.07,0.08], "labels": false, "title": null}},
               "y": {"field": "v", "type": "quantitative", "scale": {"domain": [-1.25, 1.25], "nice": false, "zero": false}, "axis": {"orient": "right", "values": [-1,-0.75,-0.5,-0.25,0,0.25,0.5,0.75,1], "labels": false, "title": null}}
             }},
            {"data": {"name": "marks"}, "transform": [{"filter": "(datum.p==='abc' || datum.p==='bc' || datum.p==='c') && datum.s==='Reflected wave'"}],
             "mark": {"type": "square", "color": "#000000", "size": 49, "opacity": 1},
             "encoding": {"x": {"field": "t", "type": "quantitative", "axis": null}, "y": {"field": "v", "type": "quantitative", "axis": null}}},
            {"data": {"name": "lines"}, "transform": [{"filter": "(datum.p==='abc' || datum.p==='bc' || datum.p==='c') && datum.s==='Transmitted wave'"}],
             "mark": {"type": "line", "color": "#0000ff", "strokeWidth": 3},
             "encoding": {"x": {"field": "t", "type": "quantitative", "axis": null}, "y": {"field": "v", "type": "quantitative", "axis": null}}},
            {"data": {"name": "marks"}, "transform": [{"filter": "(datum.p==='abc' || datum.p==='bc' || datum.p==='c') && datum.s==='Transmitted wave'"}],
             "mark": {"type": "point", "shape": "circle", "filled": true, "fill": "#ffffff", "stroke": "#0000ff", "strokeWidth": 1.2, "size": 49, "opacity": 1},
             "encoding": {"x": {"field": "t", "type": "quantitative", "axis": null}, "y": {"field": "v", "type": "quantitative", "axis": null}}}
          ]
        }
      ]
    }
  ]
}
